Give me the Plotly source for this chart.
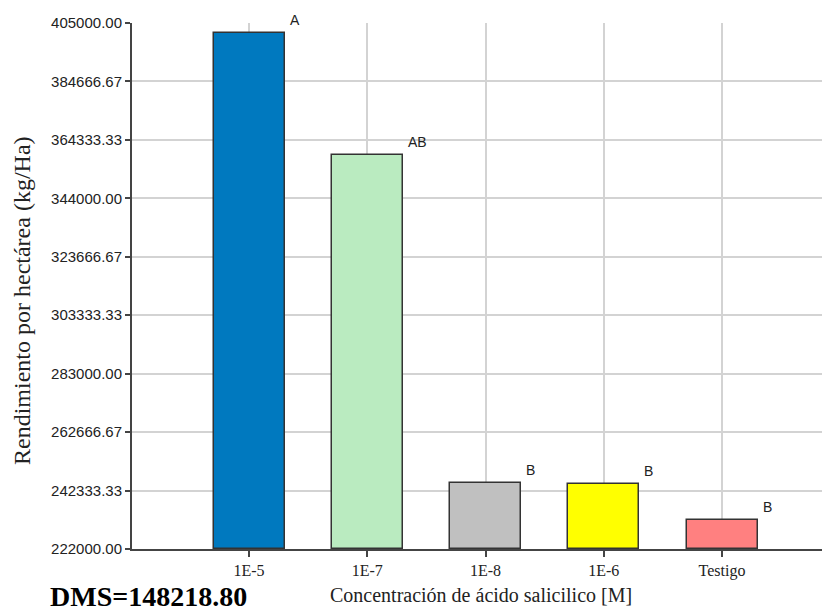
import plotly.graph_objects as go

categories = ["1E-5", "1E-7", "1E-8", "1E-6", "Testigo"]
yields = [401400, 359100, 245100, 244600, 232100]
letters = ["A", "AB", "B", "B", "B"]
colors = ["#0079BF", "#BAEBC0", "#C0C0C0", "#FFFF00", "#FF8080"]
y_ticks = [222000.00, 242333.33, 262666.67, 283000.00, 303333.33,
           323666.67, 344000.00, 364333.33, 384666.67, 405000.00]
dms_text = "DMS=148218.80"

# page body offset of 8px
OFF = 8
W, H = 830 - OFF, 612 - OFF
PL, PT, PR, PB = 132, 23, 830, 549  # plot area in window pixels
L, T = PL - OFF, PT - OFF
pw, ph = PR - PL, PB - PT
R = W - L - pw
B = H - T - ph

def px(x):
    return (x - PL) / pw

def py(y):
    return (PB - y) / ph

xidx = list(range(len(categories)))
bar_w = 0.6

fig = go.Figure()
fig.add_trace(go.Bar(
    x=xidx, y=[v - y_ticks[0] for v in yields], base=y_ticks[0],
    width=bar_w,
    marker=dict(color=colors, line=dict(color="#333333", width=1.5)),
    hoverinfo="skip",
))

annotations = []
for i, (v, lab) in enumerate(zip(yields, letters)):
    annotations.append(dict(
        x=i + bar_w / 2, y=v, xref="x", yref="y", text=lab, showarrow=False,
        xanchor="left", yanchor="bottom", xshift=3, yshift=3,
        font=dict(family="Liberation Sans, Arial", size=14, color="#222222"),
    ))

annotations.append(dict(
    x=px(481), y=py(595), xref="paper", yref="paper",
    text="Concentración de ácido salicilico [M]", showarrow=False,
    xanchor="center", yanchor="middle",
    font=dict(family="Liberation Serif, Times New Roman", size=20, color="#222222"),
))
annotations.append(dict(
    x=px(22), y=py(301), xref="paper", yref="paper",
    text="Rendimiento por hectárea (kg/Ha)", showarrow=False, textangle=-90,
    xanchor="center", yanchor="middle",
    font=dict(family="Liberation Serif, Times New Roman", size=24, color="#222222"),
))
annotations.append(dict(
    x=px(48), y=py(596), xref="paper", yref="paper",
    text="<b>" + dms_text + "</b>", showarrow=False,
    xanchor="left", yanchor="middle",
    font=dict(family="Liberation Serif, Times New Roman", size=28, color="#000000"),
))

fig.update_layout(
    width=W, height=H,
    margin=dict(l=L, r=R, t=T, b=B, pad=0),
    paper_bgcolor="white", plot_bgcolor="white",
    showlegend=False,
    annotations=annotations,
    bargap=0,
)
fig.update_xaxes(
    range=[-0.99, 4.913],
    tickmode="array", tickvals=xidx, ticktext=categories,
    ticks="outside", ticklen=6, tickwidth=2, tickcolor="#444444",
    showline=True, linecolor="#444444", linewidth=2,
    showgrid=True, gridcolor="#D3D3D3", gridwidth=2,
    zeroline=False,
    tickfont=dict(family="Liberation Serif, Times New Roman", size=16, color="#222222"),
)
fig.update_yaxes(
    range=[y_ticks[0], y_ticks[-1]],
    tickmode="array", tickvals=y_ticks,
    ticktext=[f"{v:.2f}" for v in y_ticks],
    ticks="outside", ticklen=5, tickwidth=2, tickcolor="#444444",
    showline=True, linecolor="#444444", linewidth=2,
    showgrid=True, gridcolor="#D3D3D3", gridwidth=2,
    zeroline=False,
    tickfont=dict(family="Liberation Sans, Arial", size=15, color="#222222"),
)

fig.write_html("out.html")
